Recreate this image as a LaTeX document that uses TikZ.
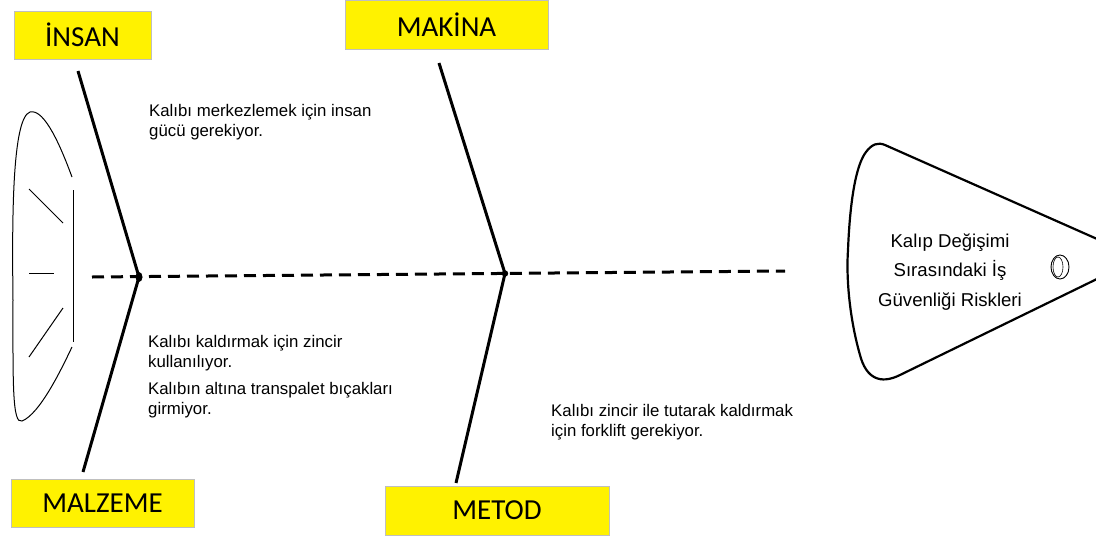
\documentclass[tikz,border=0pt]{standalone}
\usepackage{fontspec}
\setmainfont{Liberation Sans}
\newfontfamily\labelfont{Carlito}
\begin{document}
\begin{tikzpicture}[x=1pt,y=-1pt,
  bone/.style={line width=3pt},
  spine/.style={line width=3pt, dash pattern=on 12pt off 7pt},
  catbox/.style={draw=black!25, line width=0.9pt, fill=yellow, inner sep=0pt,
    font=\labelfont\fontsize{29}{34}\selectfont},
  note/.style={anchor=north west, align=left, inner sep=0pt,
    font=\fontsize{16.8}{20}\selectfont},
  headtext/.style={align=center, inner sep=0pt, font=\fontsize{18.6}{29.5}\selectfont},
  tailline/.style={line width=1pt},
]
\useasboundingbox (0,0) rectangle (1096,536);
\clip (0,0) rectangle (1096,536);

% category boxes
\node[catbox, minimum width=137pt, minimum height=48pt] (insan) at (82.5,35) {İNSAN};
\node[catbox, minimum width=203pt, minimum height=49pt] (makina) at (446.5,24.5) {MAKİNA};
\node[catbox, minimum width=183pt, minimum height=48pt] (malzeme) at (102.5,503) {MALZEME};
\node[catbox, minimum width=224pt, minimum height=49pt] (metod) at (497,510.5) {METOD};

% bone end points and joints
\coordinate (j1) at (139,277);
\coordinate (j2) at (505,273.5);
\coordinate (insanend) at (78,71);
\coordinate (malzemeend) at (83,472);
\coordinate (makinaend) at (439,63);
\coordinate (metodend) at (456,483);
\coordinate (spinestart) at (92,277);
\coordinate (spineend) at (785,271);

% spine and bones
\draw[spine] (spinestart) -- (spineend);
\draw[bone] (insanend) -- (j1) -- (malzemeend);
\draw[bone] (makinaend) -- (j2) -- (metodend);
\fill (j1) ellipse [x radius=3.5, y radius=5];
\fill (j2) circle [radius=3.2];

% fish head
\draw[line width=2.2pt] (885,145) -- (1140,258) -- (900,375)
  .. controls (880,385) and (866,378) .. (860,355)
  .. controls (850,320) and (846,280) .. (848,250)
  .. controls (850,200) and (856,165) .. (866,152)
  .. controls (872,144) and (878,142) .. (885,145) -- cycle;
\node[headtext] (effect) at (950,272) {Kalıp Değişimi\\Sırasındaki İş\\Güvenliği Riskleri};
\draw[line width=0.9pt] (1060,267) ellipse [x radius=9, y radius=12];
\draw[line width=0.6pt] (1058,267) ellipse [x radius=5, y radius=10];

% fish tail
\draw[tailline] (72,177) .. controls (62,150) and (45,108) .. (30,112)
  .. controls (12,118) and (12,220) .. (13,300)
  .. controls (13,380) and (12,425) .. (22,421)
  .. controls (40,414) and (62,368) .. (72,347);
\draw[tailline] (73,190) -- (73,342);
\draw[tailline] (29,189) -- (63,223);
\draw[tailline] (29,273) -- (54,273);
\draw[tailline] (29,357) -- (63,308);

% cause notes
\node[note] (n1) at (149,104.5) {Kalıbı merkezlemek için insan\\gücü gerekiyor.};
\node[note] (n2) at (148,335) {Kalıbı kaldırmak için zincir\\kullanılıyor.};
\node[note] (n3) at (148,382) {Kalıbın altına transpalet bıçakları\\girmiyor.};
\node[note] (n4) at (551,404) {Kalıbı zincir ile tutarak kaldırmak\\için forklift gerekiyor.};
\end{tikzpicture}
\end{document}
